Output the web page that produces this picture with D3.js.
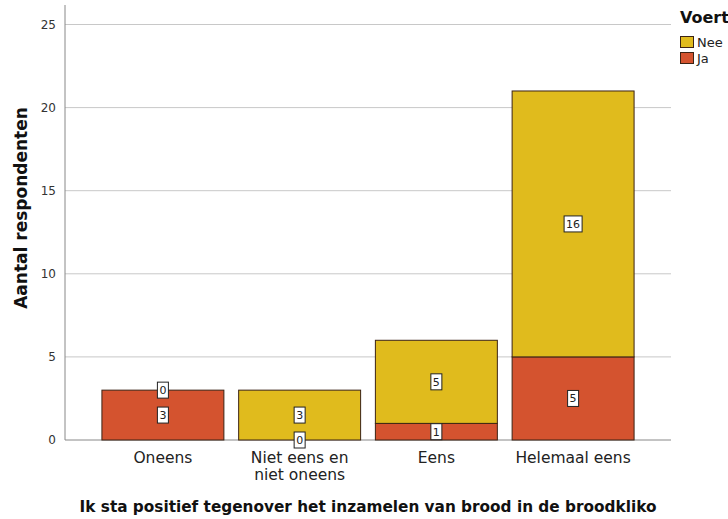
<!DOCTYPE html>
<html><head><meta charset="utf-8">
<script src="https://cdn.jsdelivr.net/npm/d3@7"></script>
<style>body{margin:0;background:#fff}</style>
</head><body>
<svg id="c" width="728" height="519"></svg>
<script>
const categories = ["Oneens", "Niet eens en\nniet oneens", "Eens", "Helemaal eens"];
const seriesNames = ["Ja", "Nee"];
const ja = [3, 0, 1, 5];
const nee = [0, 3, 5, 16];
const yTicks = [0, 5, 10, 15, 20, 25];
const colors = {Ja: "#D4532F", Nee: "#E0BB1D"};
const legendOrder = ["Nee", "Ja"];

const svg = d3.select("#c");
const font = "'DejaVu Sans', sans-serif";
const L = 65, R = 671, T = 5, B = 440;
const x = d3.scaleBand().domain(categories).range([L, R]).paddingInner(0.108).paddingOuter(0.27);
const y = d3.scaleLinear().domain([0, 25]).range([B, 24.5]);

// gridlines
svg.append("g").selectAll("line").data(yTicks.filter(d => d > 0)).join("line")
  .attr("x1", L).attr("x2", R).attr("y1", d => y(d)).attr("y2", d => y(d))
  .attr("stroke", "#c8c8c8").attr("stroke-width", 1);

// y axis
const ya = svg.append("g").attr("transform", `translate(${L},0)`)
  .call(d3.axisLeft(y).tickValues(yTicks).tickSize(0).tickPadding(9));
ya.select(".domain").remove();
ya.selectAll("text").attr("font-family", font).attr("font-size", 12).attr("fill", "#333");
svg.append("line").attr("x1", L).attr("x2", L).attr("y1", T).attr("y2", B).attr("stroke", "#888");
svg.append("line").attr("x1", L).attr("x2", R).attr("y1", B).attr("y2", B).attr("stroke", "#888");

// stacks
const data = categories.map((c, i) => ({cat: c, Ja: ja[i], Nee: nee[i]}));
const stack = d3.stack().keys(seriesNames)(data);
const g = svg.append("g");
stack.forEach(s => {
  g.selectAll(null).data(s).join("rect")
    .attr("x", d => x(d.data.cat)).attr("width", x.bandwidth())
    .attr("y", d => y(d[1])).attr("height", d => y(d[0]) - y(d[1]))
    .attr("fill", colors[s.key]).attr("stroke", "#3b2314").attr("stroke-width", 1);
});
// labels
stack.forEach(s => {
  s.forEach(d => {
    const v = d[1] - d[0];
    const cx = x(d.data.cat) + x.bandwidth() / 2;
    const cy = y((d[0] + d[1]) / 2);
    const w = String(v).length > 1 ? 18 : 11;
    g.append("rect").attr("x", cx - w / 2).attr("y", cy - 8).attr("width", w).attr("height", 16)
      .attr("fill", "#fff").attr("stroke", "#222").attr("stroke-width", 1);
    g.append("text").attr("x", cx).attr("y", cy + 4).attr("text-anchor", "middle")
      .attr("font-family", font).attr("font-size", 11).attr("fill", "#222").text(v);
  });
});

// category labels
categories.forEach(c => {
  const lines = c.split("\n");
  const t = svg.append("text").attr("text-anchor", "middle").attr("font-family", font)
    .attr("font-size", 15.5).attr("fill", "#222");
  lines.forEach((ln, k) => t.append("tspan").attr("x", x(c) + x.bandwidth() / 2)
    .attr("y", 463 + k * 17).text(ln));
});

// axis titles
svg.append("text").attr("x", 368).attr("y", 512).attr("text-anchor", "middle")
  .attr("font-family", font).attr("font-weight", "bold").attr("font-size", 15.3).attr("fill", "#111")
  .text("Ik sta positief tegenover het inzamelen van brood in de broodkliko");
svg.append("text").attr("transform", "translate(27,208) rotate(-90)").attr("text-anchor", "middle")
  .attr("font-family", font).attr("font-weight", "bold").attr("font-size", 17).attr("fill", "#111")
  .text("Aantal respondenten");

// legend
svg.append("text").attr("x", 680).attr("y", 23).attr("font-family", font).attr("font-weight", "bold")
  .attr("font-size", 16).attr("fill", "#111").text("Voert");
legendOrder.forEach((k, i) => {
  svg.append("rect").attr("x", 680.5).attr("y", 36.5 + i * 16).attr("width", 13).attr("height", 11)
    .attr("fill", colors[k]).attr("stroke", "#3b2314");
  svg.append("text").attr("x", 697).attr("y", 47 + i * 16).attr("font-family", font)
    .attr("font-size", 13).attr("fill", "#222").text(k);
});
</script>
</body></html>
